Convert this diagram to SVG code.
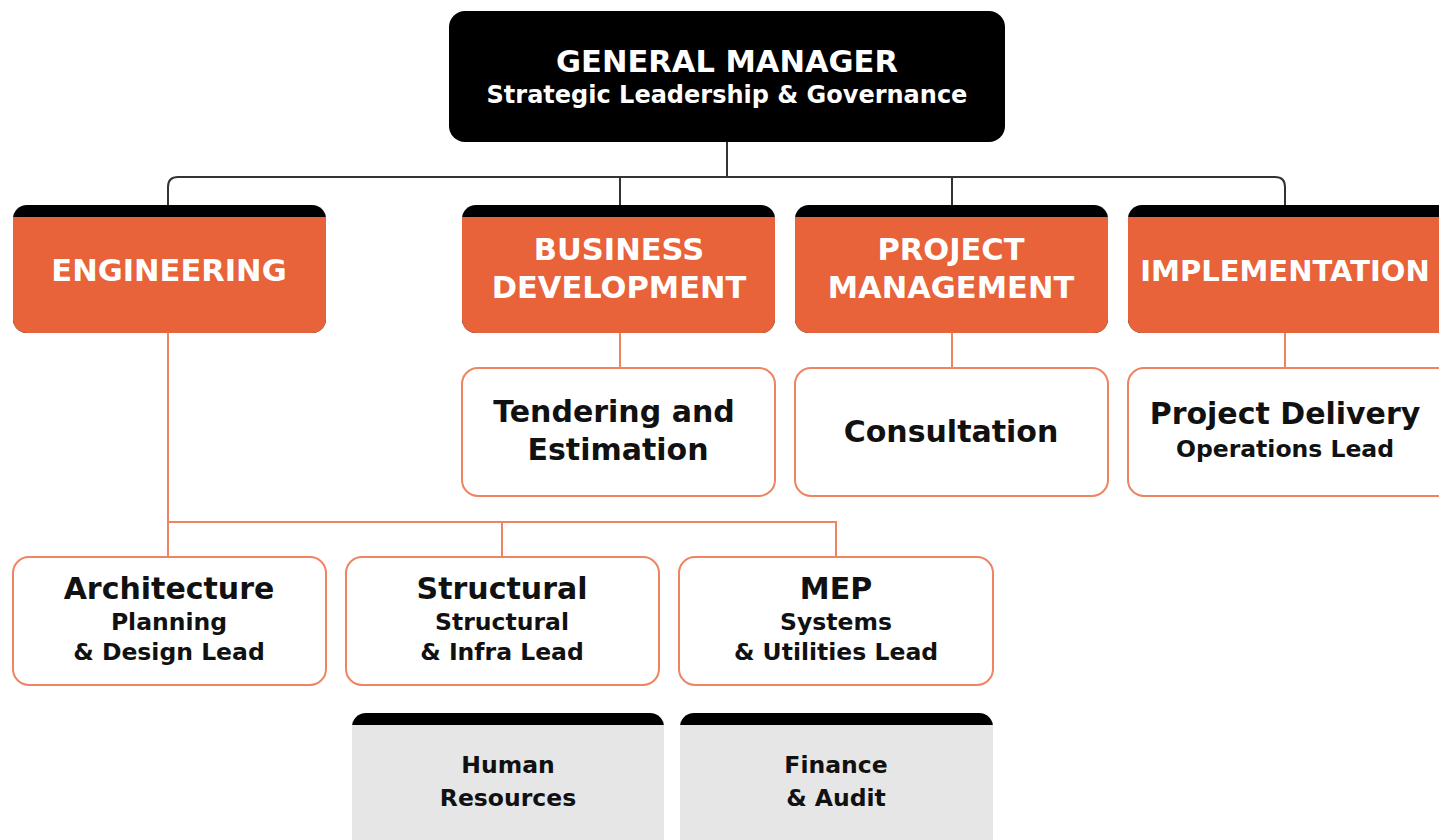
<svg xmlns="http://www.w3.org/2000/svg" width="1439" height="840" viewBox="0 0 1439 840">
<style>
text{font-family:"DejaVu Sans","Liberation Sans",sans-serif;font-weight:700;text-anchor:middle}
.w{fill:#fff}
.t1{font-size:30.5px}
.t2{font-size:24px}
.dept{font-size:30.5px;fill:#fff}
.sub{font-size:30px;fill:#111}
.small{font-size:23.5px;fill:#111}
.org{fill:#E8623A}
.band{fill:#000}
.child{fill:#fff;stroke:#EE8462;stroke-width:2}
.grey{fill:#E6E6E7}
.cb{fill:none;stroke:#333;stroke-width:2}
.co{fill:none;stroke:#EE8462;stroke-width:2}
</style>
<rect width="1439" height="840" fill="#fff"/>
<g id="connectors">
<path class="cb" d="M727 142V177M168 207V187Q168 177 178 177H1275Q1285 177 1285 187V207M620 177V207M952 177V207"/>
<path class="co" d="M620 333V368M952 333V368M1285 333V368M168 333V522H836V557M168 522V557M502 522V557"/>
</g>
<g id="gm">
<rect x="449" y="11" width="556" height="131" rx="16" fill="#000"/>
<text x="727" y="72" class="w t1">GENERAL MANAGER</text>
<text x="727" y="103" class="w t2">Strategic Leadership &amp; Governance</text>
</g>
<g id="engineering">
<rect x="13" y="205" width="313" height="128" rx="14" class="band"/>
<rect x="13" y="217" width="313" height="116" rx="14" class="org"/>
<rect x="13" y="217" width="313" height="20" class="org"/>
<text x="169" y="281" class="dept">ENGINEERING</text>
</g>
<g id="business-development">
<rect x="462" y="205" width="313" height="128" rx="14" class="band"/>
<rect x="462" y="217" width="313" height="116" rx="14" class="org"/>
<rect x="462" y="217" width="313" height="20" class="org"/>
<text x="619" y="260" class="dept">BUSINESS</text>
<text x="619" y="298" class="dept">DEVELOPMENT</text>
</g>
<g id="project-management">
<rect x="795" y="205" width="313" height="128" rx="14" class="band"/>
<rect x="795" y="217" width="313" height="116" rx="14" class="org"/>
<rect x="795" y="217" width="313" height="20" class="org"/>
<text x="951" y="260" class="dept">PROJECT</text>
<text x="951" y="298" class="dept">MANAGEMENT</text>
</g>
<g id="implementation">
<rect x="1128" y="205" width="325" height="128" rx="14" class="band"/>
<rect x="1128" y="217" width="325" height="116" rx="14" class="org"/>
<rect x="1128" y="217" width="325" height="20" class="org"/>
<text x="1285" y="281" class="dept" style="font-size:29px">IMPLEMENTATION</text>
</g>
<g id="tendering">
<rect x="462" y="368" width="313" height="128" rx="16" class="child"/>
<text x="614" y="422" class="sub">Tendering and</text>
<text x="618" y="460" class="sub">Estimation</text>
</g>
<g id="consultation">
<rect x="795" y="368" width="313" height="128" rx="16" class="child"/>
<text x="951" y="442" class="sub">Consultation</text>
</g>
<g id="project-delivery">
<rect x="1128" y="368" width="325" height="128" rx="16" class="child"/>
<text x="1285" y="424" class="sub">Project Delivery</text>
<text x="1285" y="457" class="small">Operations Lead</text>
</g>
<g id="architecture">
<rect x="13" y="557" width="313" height="128" rx="16" class="child"/>
<text x="169" y="599" class="sub">Architecture</text>
<text x="169" y="630" class="small">Planning</text>
<text x="169" y="660" class="small">&amp; Design Lead</text>
</g>
<g id="structural">
<rect x="346" y="557" width="313" height="128" rx="16" class="child"/>
<text x="502" y="599" class="sub">Structural</text>
<text x="502" y="630" class="small">Structural</text>
<text x="502" y="660" class="small">&amp; Infra Lead</text>
</g>
<g id="mep">
<rect x="679" y="557" width="314" height="128" rx="16" class="child"/>
<text x="836" y="599" class="sub">MEP</text>
<text x="836" y="630" class="small">Systems</text>
<text x="836" y="660" class="small">&amp; Utilities Lead</text>
</g>
<g id="human-resources">
<rect x="352" y="713" width="312" height="140" rx="14" class="band"/>
<rect x="352" y="725" width="312" height="128" rx="14" class="grey"/>
<rect x="352" y="725" width="312" height="20" class="grey"/>
<text x="508" y="773" class="small">Human</text>
<text x="508" y="806" class="small">Resources</text>
</g>
<g id="finance-audit">
<rect x="680" y="713" width="313" height="140" rx="14" class="band"/>
<rect x="680" y="725" width="313" height="128" rx="14" class="grey"/>
<rect x="680" y="725" width="313" height="20" class="grey"/>
<text x="836" y="773" class="small">Finance</text>
<text x="836" y="806" class="small">&amp; Audit</text>
</g>
</svg>
